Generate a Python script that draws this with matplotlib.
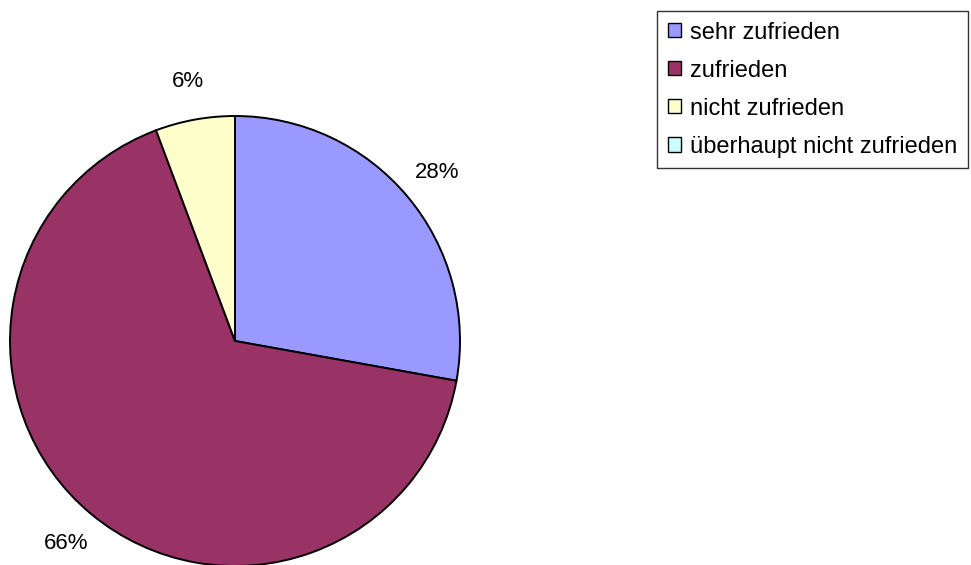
import matplotlib
matplotlib.use("Agg")
import matplotlib.pyplot as plt

# --- data ---
categories = ["sehr zufrieden", "zufrieden", "nicht zufrieden", "überhaupt nicht zufrieden"]
values = [27.8, 66.4, 5.7, 0.0]
colors = ["#9999FF", "#993366", "#FFFFCC", "#CCFFFF"]

plt.rcParams["font.family"] = ["Liberation Sans", "DejaVu Sans"]

W, H = 971, 565
fig = plt.figure(figsize=(W / 100, H / 100), dpi=100)

# pie centre (235, 341) px, radius 225 px
cx, cy, r = 235, 341, 225
ax = fig.add_axes([(cx - r) / W, (H - cy - r) / H, 2 * r / W, 2 * r / H])

wedges, texts = ax.pie(
    values,
    colors=colors,
    startangle=90,
    counterclock=False,
    radius=1.0,
    wedgeprops=dict(edgecolor="black", linewidth=1.4),
    labels=[f"{v:.0f}%" if v > 0 else "" for v in values],
    labeldistance=1.17,
    textprops=dict(fontsize=16),
)
for t in texts:
    t.set_ha("center")
    t.set_va("center")
ax.set_xlim(-1, 1)
ax.set_ylim(-1, 1)
ax.set_aspect("equal")
ax.axis("off")

leg = fig.legend(
    wedges, categories,
    loc="upper right",
    bbox_to_anchor=(968 / W, 1 - 11 / H),
    fontsize=17,
    frameon=True,
    fancybox=False,
    edgecolor="black",
    handlelength=0.55,
    handleheight=0.55,
    handletextpad=0.4,
    labelspacing=0.68,
    borderpad=0.45,
    borderaxespad=0,
)
leg.get_frame().set_linewidth(1.0)
for h in leg.legend_handles:
    h.set_linewidth(1.0)

fig.savefig("out.png", dpi=100)
